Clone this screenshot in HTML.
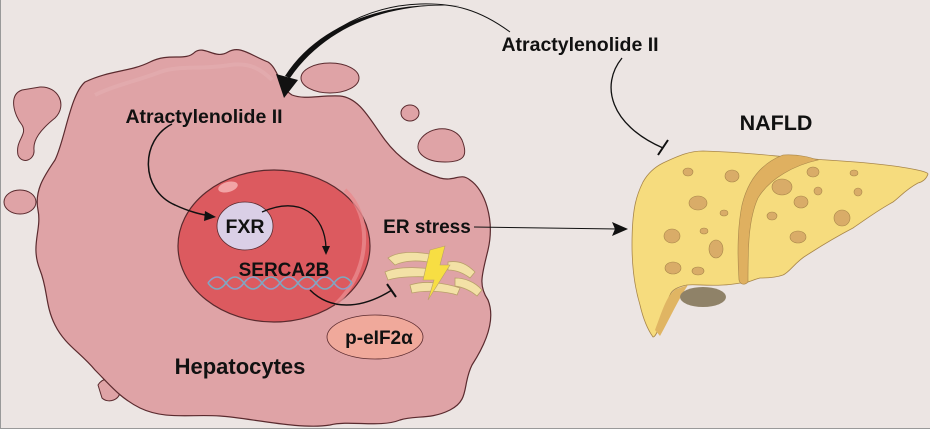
<!DOCTYPE html>
<html><head><meta charset="utf-8"><style>
html,body{margin:0;padding:0;background:#ece5e3;}
svg{display:block;}
text{font-family:"Liberation Sans",Arial,sans-serif;font-weight:bold;fill:#111;}
</style></head><body>
<svg width="930" height="429" viewBox="0 0 930 429" xmlns="http://www.w3.org/2000/svg">
<rect x="0" y="0" width="930" height="429" fill="#ece5e3"/>
<line x1="0.5" y1="0" x2="0.5" y2="429" stroke="#999" stroke-width="1"/>
<line x1="0" y1="428.5" x2="930" y2="428.5" stroke="#999" stroke-width="1"/>
<!-- small blobs -->
<g fill="#dfa3a6" stroke="#5a2a2e" stroke-width="1">
<path d="M22,90 C8,95 14,115 22,125 C28,135 15,140 18,155 C22,165 35,160 34,150 C33,140 40,130 55,118 C68,105 58,86 40,87 Z"/>
<ellipse cx="20" cy="202" rx="16" ry="12"/>
<path d="M98,385 C104,375 118,378 120,390 C121,400 108,404 102,398 Z"/>
<ellipse cx="330" cy="78" rx="29" ry="15"/>
<ellipse cx="410" cy="113" rx="9" ry="8"/>
<path d="M420,140 C430,125 455,125 462,140 C468,155 465,162 445,162 C425,162 413,152 420,140 Z"/>
</g>
<!-- cell body -->
<path fill="#dfa3a6" stroke="#5a2a2e" stroke-width="1.2" d="M85,82 C110,70 130,72 150,62 C170,52 185,62 195,52 C205,45 215,60 228,52 C240,45 250,55 268,62 C278,68 280,88 292,95 C305,100 320,95 340,96 C360,98 370,120 385,140 C400,160 420,172 440,178 C455,182 460,172 470,180 C485,190 495,220 488,250 C482,275 478,285 488,300 C496,320 485,345 472,365 C462,385 470,400 450,410 C430,420 415,415 400,420 C380,428 350,420 330,425 C300,430 250,418 220,416 C190,414 165,420 140,408 C120,398 110,385 95,370 C80,352 65,345 55,325 C45,305 48,290 40,270 C30,245 42,230 38,210 C34,190 45,175 55,160 C65,140 70,95 85,82 Z"/>
<path fill="none" stroke="#e6b2b4" stroke-width="4" opacity="0.5" d="M95,95 C115,85 140,80 160,72 C180,65 200,70 230,65 C250,62 262,70 272,80"/>
<!-- nucleus -->
<ellipse cx="274" cy="246" rx="96" ry="76" fill="#dc5a5f" stroke="#5a2a2e" stroke-width="1.2"/>
<path d="M345,190 C372,215 372,270 335,305" fill="none" stroke="#e98a8d" stroke-width="4" opacity="0.8"/>
<ellipse cx="228" cy="187" rx="10" ry="5" fill="#f2a4a6" transform="rotate(-15 228 187)"/>
<!-- DNA -->
<g stroke-width="1.6" fill="none">
<path d="M208,283 q9,-12 18,0 t18,0 t18,0 t18,0 t18,0 t18,0 t18,0 t18,0" stroke="#8d9fc8"/>
<path d="M208,283 q9,12 18,0 t18,0 t18,0 t18,0 t18,0 t18,0 t18,0 t18,0" stroke="#7aaac0"/>
</g>
<!-- FXR -->
<ellipse cx="245" cy="226" rx="28" ry="24" fill="#dacfe6" stroke="#5a2a2e" stroke-width="0.8"/>
<text x="245" y="233" font-size="19.5" text-anchor="middle">FXR</text>
<text x="284" y="276" font-size="19" text-anchor="middle">SERCA2B</text>
<!-- FXR->SERCA2B arrow -->
<path d="M262,212 C300,195 325,215 326,248" fill="none" stroke="#111" stroke-width="1.3"/>
<path d="M322,246 L326,255 L330,246 Z" fill="#111"/>
<!-- Atractylenolide -> FXR -->
<path d="M172,124 C140,140 140,190 175,205 C190,212 200,214 210,216" fill="none" stroke="#111" stroke-width="1.5"/>
<path d="M205,211 L216,217 L204,221 Z" fill="#111"/>
<text x="204" y="123" font-size="19.5" text-anchor="middle">Atractylenolide II</text>
<!-- ER -->
<g fill="#f3e1a6" stroke="#b9a06a" stroke-width="0.8">
<path d="M388,258 C400,250 420,252 435,255 L433,263 C420,260 405,260 395,265 Z"/>
<path d="M385,272 C400,265 425,268 440,270 L440,278 C425,276 400,276 388,280 Z"/>
<path d="M410,285 C425,280 445,283 460,288 L457,295 C445,291 425,290 412,293 Z"/>
<path d="M448,262 C460,260 468,265 475,272 L470,278 C462,272 455,270 448,270 Z"/>
<path d="M455,278 C465,278 475,282 482,290 L477,296 C470,290 462,287 455,286 Z"/>
</g>
<path d="M430,250 L445,246 L440,265 L450,265 L428,300 L434,280 L423,280 Z" fill="#f7de43" stroke="#b9a06a" stroke-width="0.6"/>
<text x="427" y="233" font-size="19" text-anchor="middle">ER stress</text>
<!-- SERCA2B inhibition -->
<path d="M310,290 C330,310 360,310 392,290" fill="none" stroke="#111" stroke-width="1.5"/>
<line x1="387" y1="284" x2="396" y2="297" stroke="#111" stroke-width="2"/>
<!-- p-eIF2a -->
<ellipse cx="375" cy="337" rx="48" ry="22" fill="#f0a99b" stroke="#5a2a2e" stroke-width="0.8"/>
<text x="379" y="344" font-size="19" text-anchor="middle">p-eIF2α</text>
<text x="240" y="374" font-size="22" text-anchor="middle">Hepatocytes</text>
<!-- ER stress -> NAFLD -->
<line x1="474" y1="227" x2="618" y2="229" stroke="#111" stroke-width="1"/>
<path d="M612,222 L628,229 L612,236 L615,229 Z" fill="#111"/>
<!-- big curved arrow -->
<path d="M510,32 C480,10 455,3 420,4 C360,6 310,40 287,80" fill="none" stroke="#111" stroke-width="1"/>
<path d="M460,6 C400,2 330,20 290,78 L285,76 C320,22 390,0 460,6 Z" fill="#111"/>
<path d="M276,74 L284,98 L298,80 Z" fill="#111"/>
<text x="580" y="51" font-size="19.5" text-anchor="middle">Atractylenolide II</text>
<!-- inhibition to liver -->
<path d="M622,58 C600,85 610,125 663,148" fill="none" stroke="#111" stroke-width="1.3"/>
<line x1="658" y1="155" x2="668" y2="140" stroke="#111" stroke-width="2"/>
<text x="776" y="130" font-size="21.5" text-anchor="middle">NAFLD</text>
<!-- liver -->
<path d="M663,163 C680,155 690,151 703,151 C740,152 765,155 787,157 C810,158 820,160 827,160 C860,162 890,165 907,168 C918,170 928,172 928,174 C926,180 922,182 918,183 C905,190 900,197 893,202 C875,212 865,220 853,228 C830,240 818,248 807,255 C795,262 790,272 783,275 C775,278 765,278 760,278 C752,280 750,282 747,282 C735,284 730,285 723,285 C705,286 695,284 687,285 C677,287 672,290 670,295 C665,305 663,315 660,325 C657,333 655,337 653,337 C648,330 643,318 640,305 C634,285 632,265 632,245 C632,225 633,215 635,205 C637,195 640,188 643,182 C648,173 655,167 663,163 Z" fill="#f6dc7e" stroke="#a8864a" stroke-width="0.8"/>
<path d="M655,330 C662,312 666,296 676,289 L688,285 C678,300 670,318 660,336 Z" fill="#e0b563"/>
<ellipse cx="703" cy="297" rx="23" ry="10" fill="#8f8268"/>
<path d="M783,155 C800,154 812,158 818,160 C795,165 770,178 758,198 C748,220 748,250 748,282 C744,286 740,284 739,280 C737,250 738,225 742,205 C748,180 762,163 783,155 Z" fill="#dfb060" stroke="#a8864a" stroke-width="0.6"/>
<g fill="#d9ac68" stroke="#a8864a" stroke-width="0.6">
<ellipse cx="688" cy="172" rx="5" ry="4"/><ellipse cx="732" cy="176" rx="7" ry="6"/>
<ellipse cx="698" cy="203" rx="9" ry="7"/><ellipse cx="724" cy="213" rx="4" ry="3"/>
<ellipse cx="672" cy="236" rx="8" ry="7"/><ellipse cx="704" cy="231" rx="4" ry="3"/>
<ellipse cx="716" cy="249" rx="7" ry="9"/><ellipse cx="673" cy="268" rx="8" ry="6"/>
<ellipse cx="698" cy="271" rx="6" ry="4"/><ellipse cx="782" cy="187" rx="10" ry="8"/>
<ellipse cx="813" cy="172" rx="6" ry="5"/><ellipse cx="818" cy="191" rx="4" ry="4"/>
<ellipse cx="801" cy="202" rx="7" ry="6"/><ellipse cx="854" cy="173" rx="4" ry="3"/>
<ellipse cx="858" cy="192" rx="4" ry="4"/><ellipse cx="772" cy="216" rx="5" ry="4"/>
<ellipse cx="842" cy="218" rx="8" ry="8"/><ellipse cx="798" cy="237" rx="8" ry="6"/>
</g>
</svg>
</body></html>
